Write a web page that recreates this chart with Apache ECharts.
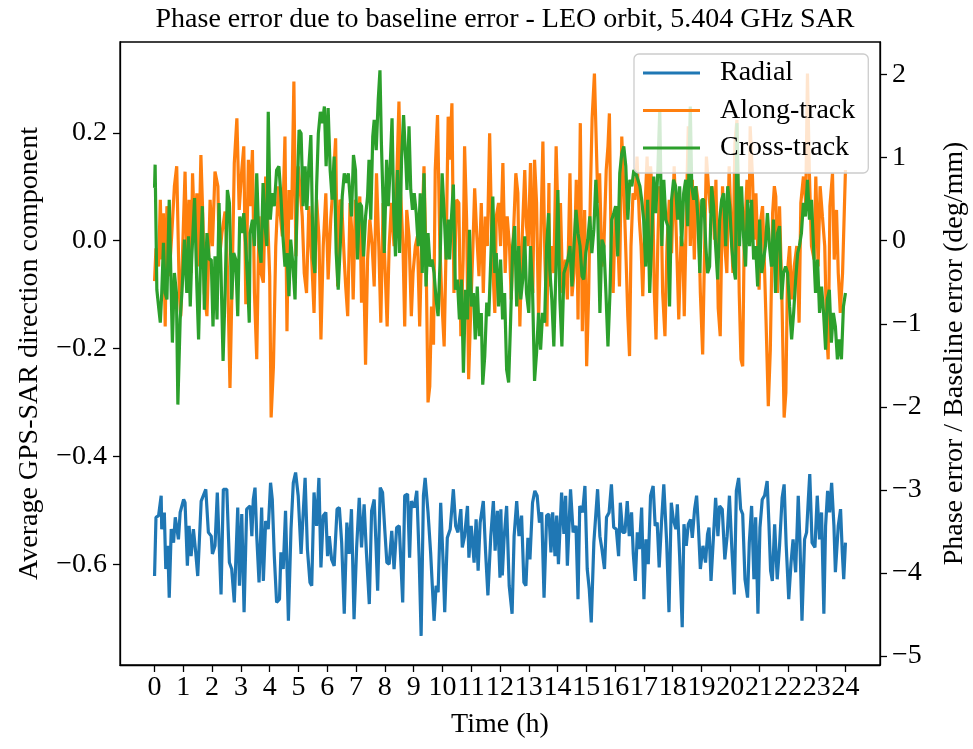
<!doctype html>
<html>
<head>
<meta charset="utf-8">
<title>Phase error due to baseline error</title>
<script src="https://cdn.jsdelivr.net/npm/echarts@6.0.0/dist/echarts.min.js"></script>
<style>
  html, body { margin: 0; padding: 0; background: #fff; }
  #main { width: 973px; height: 749px; }
</style>
</head>
<body>
<div id="main"></div>
<script type="text/javascript">
// time (h) and value pairs per series
var radialT = [0,0.05,0.14,0.23,0.25,0.34,0.39,0.46,0.51,0.58,0.66,0.72,0.83,0.89,1.01,1.06,1.14,1.20,1.27,1.35,1.43,1.50,1.62,1.78,1.87,1.97,2.01,2.10,2.18,2.22,2.31,2.39,2.51,2.60,2.68,2.77,2.89,2.95,3.03,3.11,3.20,3.32,3.38,3.43,3.49,3.55,3.63,3.72,3.78,3.86,3.95,4.03,4.09,4.16,4.24,4.34,4.39,4.47,4.55,4.65,4.74,4.82,4.90,4.99,5.09,5.14,5.23,5.31,5.40,5.46,5.54,5.63,5.71,5.78,5.86,
  5.95,6.01,6.07,6.15,6.24,6.34,6.42,6.50,6.59,6.68,6.76,6.84,6.93,7.02,7.11,7.19,7.28,7.36,7.46,7.54,7.63,7.69,7.75,7.84,7.92,8.00,8.07,8.15,8.24,8.32,8.41,8.50,8.62,8.69,8.79,8.86,8.92,9.02,9.11,9.19,9.26,9.34,9.40,9.50,9.59,9.71,9.78,9.85,9.94,10.02,10.08,10.17,10.27,10.38,10.46,10.54,10.64,10.69,10.77,10.87,10.92,11.00,11.10,11.17,11.24,11.31,11.42,11.50,11.58,11.68,11.77,11.83,11.91,12.00,
  12.03,12.08,12.14,12.23,12.32,12.42,12.49,12.58,12.66,12.75,12.83,12.90,12.97,13.04,13.13,13.21,13.29,13.37,13.45,13.53,13.62,13.70,13.77,13.83,13.91,13.97,14.03,14.14,14.22,14.28,14.34,14.45,14.54,14.64,14.71,14.77,14.87,14.95,15.03,15.10,15.17,15.26,15.39,15.47,15.54,15.63,15.70,15.79,15.87,15.95,16.04,16.12,16.18,16.26,16.34,16.42,16.49,16.57,16.63,16.70,16.77,16.84,16.92,17.00,17.07,17.15,17.23,17.32,17.39,17.46,17.53,17.61,17.69,17.79,17.87,17.95,18.02,18.11,
  18.16,18.24,18.33,18.39,18.47,18.54,18.62,18.68,18.76,18.83,18.89,18.96,19.05,19.14,19.21,19.26,19.33,19.41,19.49,19.57,19.63,19.72,19.81,19.89,19.97,20.06,20.14,20.21,20.29,20.36,20.43,20.51,20.60,20.66,20.74,20.82,20.88,20.96,21.03,21.11,21.19,21.28,21.34,21.40,21.46,21.54,21.63,21.71,21.80,21.87,21.94,22.03,22.11,22.18,22.27,22.36,22.42,22.49,22.58,22.65,22.71,22.76,22.84,22.94,23.02,23.10,23.17,23.25,23.31,23.38,23.45,23.52,23.60,23.65,23.75,23.83,23.89,23.94,24.00];
var radialV = [-0.622,-0.513,-0.510,-0.473,-0.535,-0.504,-0.609,-0.566,-0.662,-0.535,-0.560,-0.513,-0.554,-0.504,-0.480,-0.486,-0.603,-0.529,-0.585,-0.535,-0.578,-0.622,-0.483,-0.461,-0.541,-0.548,-0.581,-0.566,-0.467,-0.467,-0.656,-0.461,-0.461,-0.597,-0.609,-0.671,-0.495,-0.640,-0.507,-0.689,-0.498,-0.492,-0.548,-0.480,-0.458,-0.548,-0.634,-0.495,-0.631,-0.520,-0.535,-0.449,-0.480,-0.585,-0.671,-0.665,-0.578,-0.609,-0.501,-0.705,-0.535,-0.449,-0.430,-0.473,-0.581,-0.529,-0.440,-0.572,-0.634,-0.640,-0.467,-0.529,-0.440,-0.606,-0.510,
  -0.504,-0.585,-0.548,-0.591,-0.603,-0.498,-0.495,-0.560,-0.692,-0.523,-0.581,-0.498,-0.702,-0.569,-0.477,-0.569,-0.489,-0.578,-0.674,-0.501,-0.480,-0.560,-0.649,-0.458,-0.467,-0.538,-0.597,-0.600,-0.538,-0.609,-0.532,-0.529,-0.671,-0.473,-0.470,-0.588,-0.483,-0.495,-0.464,-0.585,-0.733,-0.473,-0.440,-0.504,-0.578,-0.705,-0.640,-0.652,-0.486,-0.591,-0.689,-0.551,-0.535,-0.461,-0.529,-0.541,-0.498,-0.569,-0.548,-0.492,-0.588,-0.529,-0.597,-0.517,-0.612,-0.523,-0.483,-0.578,-0.658,-0.548,-0.483,-0.575,-0.501,-0.625,
  -0.498,-0.621,-0.554,-0.492,-0.640,-0.692,-0.548,-0.483,-0.548,-0.510,-0.634,-0.640,-0.551,-0.591,-0.486,-0.464,-0.473,-0.523,-0.504,-0.662,-0.510,-0.507,-0.578,-0.504,-0.585,-0.510,-0.600,-0.467,-0.544,-0.473,-0.603,-0.461,-0.541,-0.529,-0.665,-0.492,-0.504,-0.455,-0.609,-0.646,-0.708,-0.560,-0.461,-0.548,-0.572,-0.609,-0.513,-0.504,-0.452,-0.532,-0.535,-0.585,-0.486,-0.541,-0.541,-0.483,-0.548,-0.504,-0.581,-0.631,-0.541,-0.572,-0.495,-0.665,-0.554,-0.600,-0.473,-0.455,-0.529,-0.523,-0.606,-0.523,-0.452,-0.560,-0.689,-0.486,-0.517,-0.535,
  -0.489,-0.585,-0.717,-0.526,-0.566,-0.526,-0.517,-0.551,-0.498,-0.473,-0.529,-0.609,-0.566,-0.597,-0.544,-0.532,-0.631,-0.554,-0.477,-0.548,-0.492,-0.498,-0.591,-0.548,-0.473,-0.578,-0.656,-0.464,-0.440,-0.498,-0.507,-0.628,-0.662,-0.560,-0.492,-0.628,-0.513,-0.692,-0.532,-0.480,-0.473,-0.446,-0.523,-0.612,-0.631,-0.526,-0.628,-0.566,-0.477,-0.452,-0.563,-0.665,-0.597,-0.554,-0.615,-0.473,-0.560,-0.705,-0.554,-0.541,-0.480,-0.433,-0.560,-0.569,-0.473,-0.554,-0.504,-0.692,-0.529,-0.464,-0.504,-0.449,-0.529,-0.615,-0.529,-0.498,-0.578,-0.628,-0.560];

var alongT = [0,0.05,0.14,0.20,0.25,0.31,0.37,0.43,0.51,0.60,0.69,0.77,0.86,0.91,0.98,1.06,1.13,1.20,1.27,1.32,1.39,1.47,1.53,1.61,1.68,1.73,1.82,1.87,1.93,2.01,2.10,2.20,2.25,2.34,2.45,2.54,2.62,2.71,2.77,2.86,2.94,3.03,3.10,3.17,
  3.26,3.32,3.40,3.47,3.55,3.63,3.70,3.78,3.86,3.93,4.00,4.05,4.13,4.21,4.30,4.35,4.44,4.53,4.60,4.67,4.76,4.84,4.91,4.99,5.05,5.13,5.20,5.28,5.36,5.46,5.54,5.63,5.71,5.78,5.86,5.95,6.03,6.12,6.20,6.29,6.36,6.44,6.50,6.59,6.64,6.71,
  6.79,6.84,6.90,6.98,7.07,7.13,7.19,7.25,7.33,7.40,7.48,7.56,7.63,7.71,7.79,7.86,7.94,7.98,8.08,8.15,8.23,8.32,8.40,8.49,8.55,8.63,8.69,8.76,8.84,8.92,8.98,9.06,9.13,9.21,9.30,9.36,9.44,9.50,9.56,9.62,9.69,9.75,9.83,9.91,9.99,10.06,10.14,10.20,
  10.25,10.33,10.40,10.49,10.57,10.64,10.72,10.77,10.84,10.91,10.98,11.06,11.12,11.19,11.27,11.35,11.42,11.49,11.56,11.64,11.72,11.82,11.87,11.95,12.02,12.10,12.18,12.25,12.33,12.39,12.46,12.55,12.62,12.69,12.76,12.86,12.92,12.98,13.06,13.14,13.20,13.27,13.34,13.41,13.49,13.56,13.63,13.70,
  13.72,13.80,13.87,13.95,14.03,14.10,14.18,14.27,14.34,14.43,14.50,14.57,14.65,14.71,14.79,14.86,14.94,15.01,15.08,15.14,15.20,15.28,15.34,15.40,15.46,15.54,15.61,15.69,15.75,15.80,15.86,15.93,16.01,16.09,16.15,16.23,16.30,16.38,16.44,16.50,16.55,16.62,16.69,16.76,16.84,16.90,16.96,17.04,17.11,17.19,
  17.23,17.31,17.36,17.42,17.48,17.54,17.60,17.65,17.73,17.80,17.88,17.96,18.05,18.15,18.21,18.29,18.35,18.40,18.47,18.54,18.61,18.68,18.75,18.81,18.89,18.96,19.04,19.10,19.17,19.24,19.31,19.37,19.45,19.50,19.58,19.65,19.73,19.81,19.88,19.96,20.02,20.09,20.16,20.23,20.31,20.37,20.43,20.48,20.58,20.66,
  20.69,20.77,20.83,20.89,20.95,21.00,21.06,21.12,21.18,21.24,21.32,21.39,21.47,21.53,21.58,21.64,21.71,21.79,21.87,21.93,21.99,22.06,22.13,22.22,22.31,22.39,22.45,22.54,22.62,22.68,22.75,22.82,22.91,22.97,23.05,23.12,23.20,23.28,23.35,23.40,23.46,23.55,23.61,23.69,23.75,23.82,23.90,24.00];
var alongV = [-0.075,-0.014,-0.048,0.076,-0.035,0.051,-0.159,0.064,-0.066,0.014,0.101,0.138,-0.097,-0.140,-0.010,0.128,-0.048,0.076,-0.060,0.125,0.014,0.088,-0.048,0.159,0.039,-0.097,-0.140,-0.048,0.076,-0.010,0.128,0.101,-0.035,0.014,0.054,-0.060,-0.273,-0.035,0.144,0.227,0.057,0.131,0.175,-0.118,
  0.150,0.064,0.168,-0.097,-0.220,0.045,-0.060,-0.078,0.119,0.039,-0.066,-0.328,-0.233,-0.010,0.101,0.057,0.008,0.193,-0.168,0.094,0.039,0.295,-0.029,0.138,0.101,0.045,-0.060,-0.097,0.064,-0.035,-0.134,0.076,0.008,-0.183,-0.010,0.088,-0.072,0.039,0.101,0.190,-0.085,0.076,0.070,-0.035,-0.085,-0.140,
  0.070,0.027,-0.109,0.076,0.039,0.082,-0.115,-0.004,-0.230,-0.035,0.039,-0.010,-0.085,0.125,-0.010,-0.152,0.070,-0.010,-0.159,-0.010,0.070,-0.010,0.088,0.258,0.088,-0.010,-0.159,0.057,0.008,-0.140,-0.060,-0.010,0.008,-0.159,0.039,0.138,-0.060,-0.300,-0.270,-0.122,-0.193,0.131,0.233,-0.010,-0.122,-0.196,0.020,0.230,
  0.150,0.255,-0.097,0.076,0.070,-0.177,-0.035,0.175,0.039,-0.257,-0.134,-0.010,0.097,0.014,-0.066,0.070,-0.097,0.045,-0.010,0.199,-0.010,-0.134,0.045,0.070,-0.010,0.144,-0.060,0.045,-0.010,-0.109,0.002,0.125,0.088,-0.159,-0.010,0.131,0.027,-0.010,0.144,-0.097,0.150,0.070,-0.146,-0.010,0.184,-0.035,-0.159,0.107,
  -0.085,-0.010,-0.060,0.175,0.008,0.070,-0.097,-0.035,-0.109,0.125,-0.103,-0.060,0.113,-0.146,0.218,-0.168,0.057,-0.233,-0.097,0.088,0.227,0.310,0.307,0.070,0.125,-0.048,-0.010,0.131,0.175,0.236,-0.010,-0.097,0.064,0.008,-0.085,0.193,0.101,-0.035,-0.140,-0.214,-0.010,0.088,0.076,0.156,0.039,-0.010,-0.103,0.064,0.156,-0.010,
  0.138,0.070,-0.097,-0.183,-0.010,0.101,0.064,-0.097,-0.177,-0.010,0.076,-0.023,0.138,-0.035,-0.146,0.008,-0.010,-0.140,0.045,0.212,-0.010,0.113,-0.035,0.101,0.070,-0.097,-0.211,-0.035,0.156,0.101,0.051,0.101,0.002,0.113,-0.125,-0.177,0.101,-0.010,-0.060,0.138,0.039,-0.060,0.181,0.224,-0.097,-0.220,-0.233,-0.010,0.113,0.070,
  0.212,0.119,0.002,0.088,-0.010,-0.091,0.039,0.064,-0.035,-0.146,-0.307,-0.202,0.051,0.101,0.082,-0.097,0.064,-0.097,-0.328,-0.282,-0.054,-0.010,-0.109,-0.048,-0.010,-0.152,0.070,0.119,0.070,0.310,0.119,-0.010,-0.035,0.119,-0.048,0.101,0.045,-0.010,-0.177,-0.220,0.064,0.125,-0.035,0.057,-0.060,-0.134,-0.060,0.131];

var crossT = [0,0.02,0.08,0.14,0.20,0.25,0.31,0.37,0.43,0.51,0.58,0.62,0.69,0.76,0.81,0.89,0.95,1.04,1.12,1.18,1.24,1.29,1.39,1.47,1.53,1.61,1.66,1.73,1.82,1.90,1.97,2.03,2.10,2.17,2.24,2.31,2.38,2.45,2.53,2.60,2.68,2.75,2.82,2.89,2.96,3.03,3.10,3.17,3.24,3.29,
  3.32,3.40,3.47,3.55,3.63,3.70,3.77,3.84,3.90,3.95,4.02,4.09,4.16,4.24,4.32,4.39,4.46,4.53,4.60,4.67,4.73,4.81,4.88,4.95,5.02,5.09,5.16,5.23,5.29,5.36,5.43,5.51,5.57,5.63,5.69,5.76,5.83,5.90,5.96,6.03,6.10,6.17,6.24,6.31,6.38,6.45,6.52,6.59,6.66,6.73,
  6.79,6.84,6.91,6.98,7.05,7.12,7.19,7.26,7.33,7.40,7.45,7.51,7.58,7.63,7.70,7.77,7.83,7.88,7.94,7.98,8.06,8.12,8.18,8.25,8.31,8.37,8.44,8.51,8.58,8.65,8.72,8.77,8.84,8.90,8.96,9.02,9.09,9.16,9.23,9.30,9.36,9.43,9.50,9.57,9.64,9.71,9.78,9.85,9.92,9.99,10.06,10.13,10.20,
  10.25,10.31,10.38,10.45,10.52,10.59,10.66,10.73,10.80,10.87,10.94,11.01,11.08,11.14,11.21,11.28,11.35,11.40,11.47,11.54,11.61,11.68,11.75,11.82,11.87,11.95,12.02,12.09,12.16,12.23,12.30,12.37,12.44,12.51,12.58,12.65,12.72,12.79,12.86,12.92,13.00,13.06,13.13,13.20,13.27,13.34,13.41,13.48,13.55,13.62,13.69,
  13.73,13.80,13.87,13.94,14.01,14.08,14.15,14.22,14.29,14.36,14.43,14.50,14.57,14.64,14.71,14.78,14.85,14.91,14.98,15.05,15.12,15.19,15.26,15.33,15.40,15.47,15.54,15.61,15.68,15.75,15.82,15.88,15.95,16.02,16.09,16.16,16.23,16.30,16.37,16.44,16.51,16.58,16.65,16.72,16.79,16.86,16.92,16.99,17.06,17.13,
  17.20,17.27,17.34,17.41,17.48,17.55,17.62,17.69,17.76,17.83,17.89,17.96,18.03,18.10,18.17,18.24,18.31,18.38,18.45,18.52,18.61,18.66,18.73,18.80,18.87,18.94,19.01,19.08,19.15,19.21,19.28,19.35,19.42,19.49,19.56,19.63,19.70,19.77,19.84,19.91,19.98,20.05,20.11,20.18,20.23,20.32,20.39,20.46,20.53,20.60,
  20.67,20.74,20.81,20.88,20.95,21.02,21.09,21.16,21.22,21.29,21.36,21.43,21.50,21.57,21.64,21.71,21.78,21.85,21.92,21.99,22.06,22.13,22.20,22.27,22.34,22.40,22.47,22.54,22.61,22.68,22.75,22.82,22.89,22.96,23.03,23.10,23.17,23.24,23.31,23.37,23.44,23.51,23.58,23.65,23.72,23.79,23.86,23.93,24.00];
var crossV = [0.098,0.141,-0.091,-0.122,-0.152,-0.097,-0.004,-0.097,-0.109,0.076,-0.097,-0.189,-0.060,-0.097,-0.304,-0.146,-0.097,0.002,-0.097,0.008,-0.122,-0.035,0.079,-0.085,-0.183,-0.010,0.064,-0.128,0.014,-0.035,-0.035,-0.159,-0.029,-0.146,0.070,-0.060,-0.223,-0.097,0.094,0.070,-0.109,-0.023,-0.035,-0.140,0.045,0.014,0.051,-0.010,-0.085,-0.152,
  0.014,0.039,-0.010,0.125,-0.010,-0.041,0.107,0.027,-0.010,0.239,0.039,0.088,0.064,0.131,0.138,0.082,0.008,-0.048,-0.023,-0.103,0.002,-0.048,-0.109,0.076,0.205,0.199,0.064,0.138,0.057,0.138,0.196,-0.035,-0.060,0.101,0.199,0.239,0.218,0.249,0.138,0.246,0.131,0.076,0.156,-0.023,-0.091,-0.010,0.082,0.125,0.107,0.125,
  0.125,0.045,0.159,0.131,-0.035,0.070,0.064,-0.029,0.045,0.082,0.150,0.039,0.193,0.224,0.168,0.261,0.316,0.181,0.070,-0.023,0.150,0.064,0.131,0.227,0.051,-0.029,0.131,-0.023,0.150,0.233,0.156,0.094,0.212,0.094,0.057,0.088,0.051,-0.010,0.088,-0.060,0.125,-0.085,0.014,-0.048,-0.035,-0.060,-0.109,-0.140,-0.035,0.125,0.051,-0.035,0.039,
  -0.035,0.039,0.104,-0.091,-0.072,-0.146,-0.072,-0.245,-0.091,-0.146,0.020,-0.122,-0.097,-0.183,-0.085,-0.177,-0.134,-0.267,-0.214,-0.115,-0.140,-0.035,0.082,-0.060,-0.023,-0.122,-0.035,-0.146,-0.097,-0.239,-0.263,-0.146,-0.010,0.027,-0.122,-0.010,-0.109,-0.072,0.008,-0.097,-0.134,-0.010,-0.091,-0.260,-0.208,-0.134,-0.202,-0.134,-0.152,-0.010,0.051,
  -0.054,-0.109,-0.196,-0.060,0.094,-0.109,-0.196,-0.060,-0.048,-0.035,-0.010,-0.085,-0.010,0.057,0.014,-0.010,-0.066,-0.072,-0.023,0.002,0.045,-0.023,0.020,0.113,0.039,-0.134,0.002,-0.010,-0.097,-0.196,-0.097,0.039,0.051,0.064,-0.029,0.125,0.162,0.175,0.138,0.039,0.113,0.101,0.131,0.125,0.113,0.101,0.076,0.039,-0.048,0.076,
  -0.097,0.002,0.119,0.051,0.125,0.243,-0.010,0.113,0.039,0.027,-0.122,0.076,0.113,0.101,0.039,0.101,-0.010,0.088,0.113,0.027,0.249,0.101,0.076,0.101,0.045,-0.060,0.076,0.076,-0.010,-0.060,-0.048,0.101,0.064,-0.010,-0.072,0.039,0.076,0.088,-0.010,0.101,0.064,-0.010,-0.048,-0.072,0.218,-0.010,0.101,0.008,-0.048,0.076,
  -0.010,0.076,-0.035,-0.010,-0.085,0.039,-0.060,-0.035,-0.010,0.051,-0.010,-0.048,0.039,-0.097,0.014,0.027,-0.109,-0.060,-0.048,-0.060,-0.122,-0.183,-0.134,-0.072,-0.023,-0.010,0.014,0.070,0.045,0.113,0.039,0.076,-0.010,-0.097,-0.035,-0.134,-0.085,-0.134,-0.202,-0.109,-0.091,-0.189,-0.134,-0.159,-0.220,-0.183,-0.220,-0.122,-0.097];

var xTicks = [0,1,2,3,4,5,6,7,8,9,10,11,12,13,14,15,16,17,18,19,20,21,22,23,24];
var leftTicks = [-0.6,-0.4,-0.2,0,0.2];
var rightTicks = [-5,-4,-3,-2,-1,0,1,2];

var leftMin = -0.787, leftMax = 0.3685;
var rightScale = 6.49; // deg/mm per unit of direction component

var font = 'Liberation Serif';
var fs = 28;

function pairs(t, v) {
	var out = [];
	for (var i = 0; i < t.length; i++) {
		out.push([t[i], v[i]]);
	}
	return out;
}

function minus(s) {
	return String(s).replace('-', '\u2212');
}

var chart = echarts.init(document.getElementById('main'));

chart.setOption({
	animation: false,
	backgroundColor: '#fff',
	textStyle: { fontFamily: font, color: '#000' },
	title: {
		text: 'Phase error due to baseline error - LEO orbit, 5.404 GHz SAR',
		left: 500,
		textAlign: 'center',
		top: 1,
		textStyle: { fontFamily: font, fontSize: fs, fontWeight: 'normal', color: '#000' }
	},
	grid: {
		left: 120, right: 93, top: 42, bottom: 84,
		containLabel: false,
		outerBoundsMode: 'none',
		show: true, borderColor: '#000', borderWidth: 1.3, backgroundColor: 'transparent'
	},
	legend: {
		orient: 'vertical',
		left: 634, top: 54,
		padding: [5, 13, 11, 9],
		itemWidth: 57, itemHeight: 3, itemGap: 9.5,
		icon: 'rect',
		backgroundColor: 'rgba(255,255,255,0.8)',
		borderColor: '#cccccc', borderWidth: 1.3, borderRadius: 5,
		textStyle: { fontFamily: font, fontSize: fs, color: '#000', lineHeight: 28, padding: [0, 0, 0, 15] },
		data: ['Radial', 'Along-track', 'Cross-track']
	},
	xAxis: {
		type: 'value',
		min: -1.2, max: 25.2,
		name: 'Time (h)',
		nameLocation: 'middle',
		nameGap: 46,
		nameTextStyle: { fontFamily: font, fontSize: fs, color: '#000' },
		axisLine: { onZero: false, lineStyle: { color: '#000', width: 1.3 } },
		axisTick: { show: true, inside: false, length: 7, customValues: xTicks, lineStyle: { color: '#000', width: 1.3 } },
		axisLabel: { customValues: xTicks, margin: 9, fontFamily: font, fontSize: fs, color: '#000' },
		splitLine: { show: false }
	},
	yAxis: [{
		type: 'value',
		position: 'left',
		min: leftMin, max: leftMax,
		name: 'Average GPS-SAR direction component',
		nameLocation: 'middle',
		nameRotate: 90,
		nameGap: 76,
		nameTextStyle: { fontFamily: font, fontSize: fs, color: '#000' },
		axisLine: { show: true, onZero: false, lineStyle: { color: '#000', width: 1.3 } },
		axisTick: { show: true, inside: false, length: 7, customValues: leftTicks, lineStyle: { color: '#000', width: 1.3 } },
		axisLabel: {
			customValues: leftTicks, margin: 13, fontFamily: font, fontSize: fs, color: '#000',
			formatter: function (v) { return minus(v.toFixed(1)); }
		},
		splitLine: { show: false }
	}, {
		type: 'value',
		position: 'right',
		min: leftMin * rightScale, max: leftMax * rightScale,
		name: 'Phase error / Baseline error (deg/mm)',
		nameLocation: 'middle',
		nameRotate: 90,
		nameGap: 61,
		nameTextStyle: { fontFamily: font, fontSize: fs, color: '#000' },
		axisLine: { show: true, onZero: false, lineStyle: { color: '#000', width: 1.3 } },
		axisTick: { show: true, inside: false, length: 7, customValues: rightTicks, lineStyle: { color: '#000', width: 1.3 } },
		axisLabel: {
			customValues: rightTicks, margin: 12, fontFamily: font, fontSize: fs, color: '#000',
			formatter: function (v) { return minus(Math.round(v)); }
		},
		splitLine: { show: false }
	}],
	series: [{
		name: 'Radial',
		type: 'line',
		showSymbol: false,
		color: '#1f77b4',
		lineStyle: { width: 3.2, color: '#1f77b4' },
		data: pairs(radialT, radialV)
	}, {
		name: 'Along-track',
		type: 'line',
		showSymbol: false,
		color: '#ff7f0e',
		lineStyle: { width: 3.2, color: '#ff7f0e' },
		data: pairs(alongT, alongV)
	}, {
		name: 'Cross-track',
		type: 'line',
		showSymbol: false,
		color: '#2ca02c',
		lineStyle: { width: 3.2, color: '#2ca02c' },
		data: pairs(crossT, crossV)
	}]
});
</script>
</body>
</html>
